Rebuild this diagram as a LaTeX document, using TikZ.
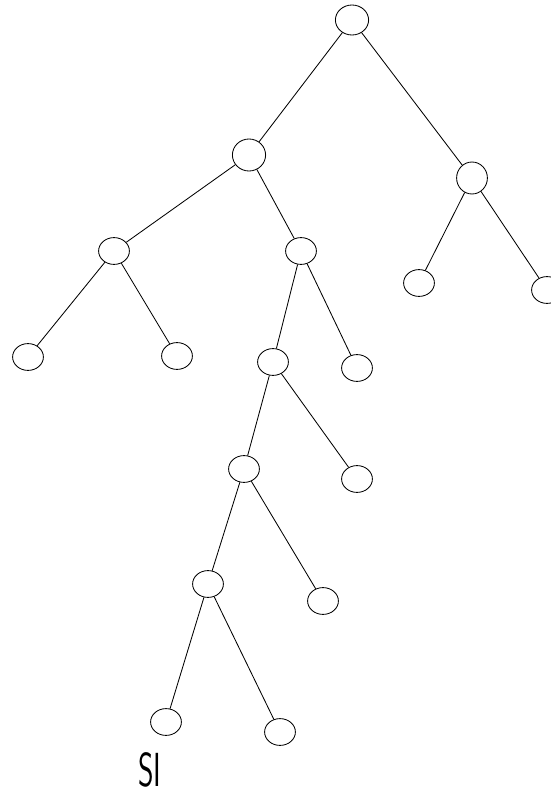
\documentclass[tikz,border=0pt]{standalone}
\usetikzlibrary{positioning, shapes.geometric}

\begin{document}
\begin{tikzpicture}[
    node distance=2cm,
    on grid,
    line width=0.6pt,
    vertex/.style={
        ellipse,
        draw,
        minimum width=0.77cm,
        minimum height=0.67cm,
        inner sep=0pt,
    },
    tag/.style={
        font=\sffamily\fontsize{34}{34}\selectfont,
        xscale=0.62,
        inner sep=0pt,
    },
]
\useasboundingbox (0,0) rectangle (13.775,-19.925);

% --- Vertices ---
\node[vertex, minimum width=0.83cm, minimum height=0.75cm] (root) at (8.8,-0.5) {};
\node[vertex, minimum width=0.83cm, minimum height=0.8cm] (a) [below left=3.375cm and 2.575cm of root] {};
\node[vertex, minimum height=0.8cm] (b) [below right=3.95cm and 3cm of root] {};
\node[vertex] (c)  [below left=2.4cm and 3.375cm of a] {};
\node[vertex] (d)  [below right=2.4cm and 1.3cm of a] {};
\node[vertex] (b1) [below left=2.625cm and 1.325cm of b] {};
\node[vertex] (b2) [below right=2.8cm and 1.875cm of b] {};
\node[vertex] (c1) [below left=2.65cm and 2.15cm of c] {};
\node[vertex] (c2) [below right=2.625cm and 1.575cm of c] {};
\node[vertex] (e)  [below left=2.775cm and 0.7cm of d] {};
\node[vertex] (d2) [below right=2.925cm and 1.4cm of d] {};
\node[vertex] (f)  [below left=2.675cm and 0.725cm of e] {};
\node[vertex] (e2) [below right=2.925cm and 2.1cm of e] {};
\node[vertex] (g)  [below left=2.875cm and 0.9cm of f] {};
\node[vertex] (f2) [below right=3.3cm and 1.975cm of f] {};
\node[vertex] (h1) [below left=3.45cm and 1.05cm of g] {};
\node[vertex] (h2) [below right=3.7cm and 1.8cm of g] {};

% --- Edges ---
\path
    (root) edge (a)
    (root) edge (b)
    (a) edge (c)
    (a) edge (d)
    (b) edge (b1)
    (b) edge (b2)
    (c) edge (c1)
    (c) edge (c2)
    (d) edge (e)
    (d) edge (d2)
    (e) edge (f)
    (e) edge (e2)
    (f) edge (g)
    (f) edge (f2)
    (g) edge (h1)
    (g) edge (h2)
;

% --- Label ---
\node[tag] (si) [below left=1.2cm and 0.4cm of h1] {SI};

\end{tikzpicture}
\end{document}
